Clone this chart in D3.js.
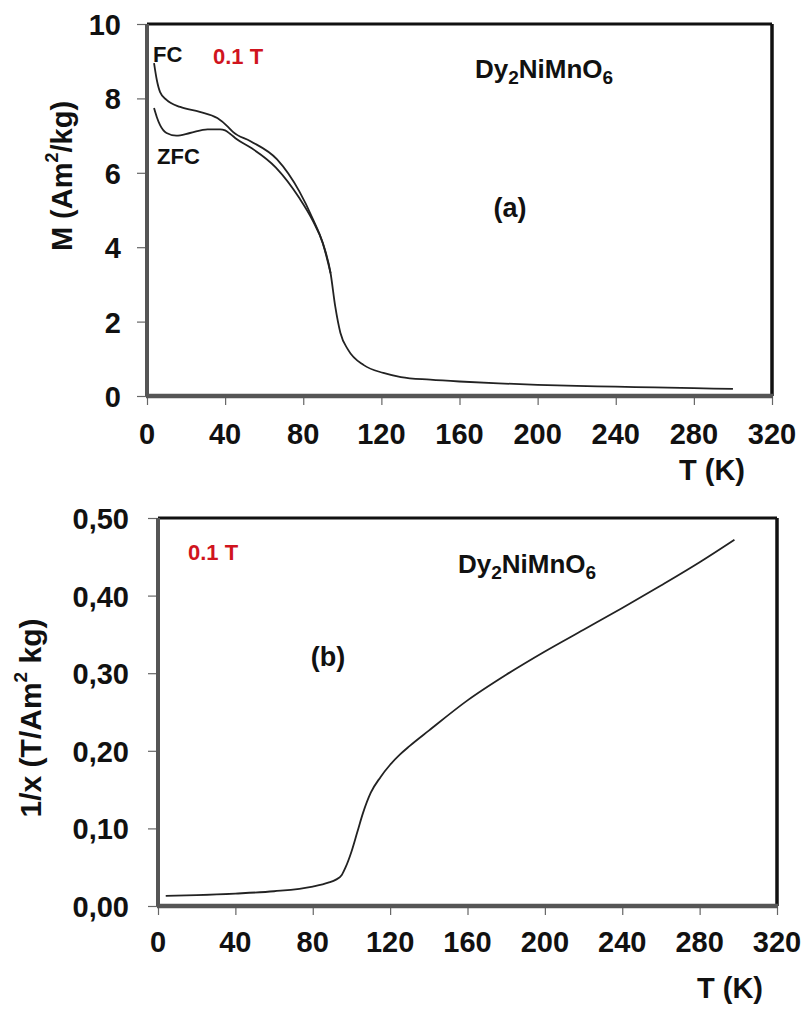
<!DOCTYPE html>
<html>
<head>
<meta charset="utf-8">
<script src="https://cdn.jsdelivr.net/npm/d3@7"></script>
<style>
  body { margin: 0; background: #fff; }
  svg { display: block; }
  text { font-family: "Liberation Sans", Arial, sans-serif; }
</style>
</head>
<body>
<script>
// ---------- data ----------
const xTicks = [0, 40, 80, 120, 160, 200, 240, 280, 320];
const mTicks = [0, 2, 4, 6, 8, 10];
const invTicks = [0, 0.1, 0.2, 0.3, 0.4, 0.5];

// (a) FC magnetisation, T (K) vs M (Am2/kg)
const tempFC = [3.6, 5, 6.7, 10, 17, 27, 36, 41.6, 44, 53, 66.6, 78, 85, 90, 94, 96.4, 99, 103, 111, 121, 130, 145, 160, 180, 200, 220, 240, 260, 280, 300];
const mFC    = [8.95, 8.5, 8.17, 7.96, 7.77, 7.64, 7.47, 7.23, 7.1, 6.85, 6.36, 5.5, 4.75, 4.11, 3.3, 2.4, 1.7, 1.24, 0.83, 0.62, 0.51, 0.44, 0.39, 0.34, 0.3, 0.27, 0.25, 0.23, 0.21, 0.19];
// (a) ZFC magnetisation
const tempZFC = [3.6, 5, 6.7, 10, 15, 22, 31, 37.4, 40, 42.5, 46, 53, 66, 78, 85, 90, 94];
const mZFC    = [7.74, 7.5, 7.28, 7.07, 7.0, 7.07, 7.17, 7.17, 7.14, 7.05, 6.9, 6.68, 6.14, 5.32, 4.7, 4.11, 3.3];

// (b) inverse susceptibility, T (K) vs 1/x (T/Am2 kg)
const tempInv = [4, 20, 40, 60, 80, 88, 92, 95, 97, 100, 103, 106, 110, 115, 120, 125, 130, 140, 160, 180, 200, 220, 240, 260, 280, 298];
const invChi  = [0.013, 0.014, 0.016, 0.019, 0.025, 0.03, 0.034, 0.04, 0.05, 0.07, 0.095, 0.12, 0.146, 0.166, 0.182, 0.195, 0.206, 0.226, 0.265, 0.298, 0.328, 0.356, 0.384, 0.413, 0.443, 0.472];

// ---------- drawing ----------
const W = 807, H = 1012;
const svg = d3.select("body").append("svg").attr("width", W).attr("height", H);
svg.append("rect").attr("width", W).attr("height", H).attr("fill", "#fff");

function panel(opts) {
  const { x, y, xTickVals, yTickVals, yFmt, tickLabelRight, xLabelY } = opts;
  const g = svg.append("g");
  const [x0, x1] = x.range();
  const [y0, y1] = y.range(); // y0 bottom, y1 top

  const xAxis = d3.axisBottom(x).tickValues(xTickVals).tickSize(9).tickFormat("");
  g.append("g").attr("transform", `translate(0,${y0})`).call(xAxis)
    .call(s => s.select(".domain").remove())
    .call(s => s.selectAll("line").attr("stroke", "#666").attr("stroke-width", 1.2));
  const yAxis = d3.axisLeft(y).tickValues(yTickVals).tickSize(10).tickFormat("");
  g.append("g").attr("transform", `translate(${x0},0)`).call(yAxis)
    .call(s => s.select(".domain").remove())
    .call(s => s.selectAll("line").attr("stroke", "#666").attr("stroke-width", 1.2));

  g.selectAll(".xl").data(xTickVals).join("text")
    .attr("x", d => x(d)).attr("y", xLabelY)
    .attr("text-anchor", "middle").attr("dominant-baseline", "central")
    .attr("font-size", 29).attr("font-weight", "bold").attr("fill", "#111")
    .text(d => d);
  g.selectAll(".yl").data(yTickVals).join("text")
    .attr("x", tickLabelRight).attr("y", d => y(d) + 1)
    .attr("text-anchor", "end").attr("dominant-baseline", "central")
    .attr("font-size", 29).attr("font-weight", "bold").attr("fill", "#111")
    .text(yFmt);

  g.append("line").attr("x1", x0).attr("x2", x1).attr("y1", y1).attr("y2", y1)
    .attr("stroke", "#111").attr("stroke-width", 3);
  g.append("line").attr("x1", x1).attr("x2", x1).attr("y1", y1).attr("y2", y0)
    .attr("stroke", "#111").attr("stroke-width", 3.5);
  g.append("line").attr("x1", x0).attr("x2", x0).attr("y1", y1).attr("y2", y0)
    .attr("stroke", "#555").attr("stroke-width", 4);
  g.append("line").attr("x1", x0 - 1).attr("x2", x1 + 1).attr("y1", y0).attr("y2", y0)
    .attr("stroke", "#555").attr("stroke-width", 4.5);
  return g;
}

// ---- panel (a) ----
const xa = d3.scaleLinear().domain([0, 320]).range([147, 772]);
const ya = d3.scaleLinear().domain([0, 10]).range([396, 24]);
panel({ x: xa, y: ya, xTickVals: xTicks, yTickVals: mTicks, yFmt: d => d,
  tickLabelRight: 121, xLabelY: 434 });

const lineA = d3.line().x(d => xa(d[0])).y(d => ya(d[1])).curve(d3.curveMonotoneX);
svg.append("path").datum(tempZFC.map((t, i) => [t, mZFC[i]]))
  .attr("d", lineA).attr("fill", "none").attr("stroke", "#222").attr("stroke-width", 1.8);
svg.append("path").datum(tempFC.map((t, i) => [t, mFC[i]]))
  .attr("d", lineA).attr("fill", "none").attr("stroke", "#222").attr("stroke-width", 1.8);

svg.append("text").attr("x", 712).attr("y", 470).attr("text-anchor", "middle")
  .attr("dominant-baseline", "central").attr("font-size", 29).attr("font-weight", "bold")
  .attr("fill", "#111").text("T (K)");

const yTa = svg.append("text").attr("transform", "translate(62,176) rotate(-90)")
  .attr("text-anchor", "middle").attr("dominant-baseline", "central")
  .attr("font-size", 29).attr("font-weight", "bold").attr("fill", "#111");
yTa.append("tspan").text("M (Am");
yTa.append("tspan").attr("dy", -10).attr("font-size", 18).text("2");
yTa.append("tspan").attr("dy", 10).text("/kg)");

svg.append("text").attr("x", 153).attr("y", 54).attr("dominant-baseline", "central")
  .attr("font-size", 22).attr("font-weight", "bold").attr("fill", "#111").text("FC");
svg.append("text").attr("x", 157).attr("y", 156).attr("dominant-baseline", "central")
  .attr("font-size", 22).attr("font-weight", "bold").attr("fill", "#111").text("ZFC");
svg.append("text").attr("x", 213).attr("y", 56).attr("dominant-baseline", "central")
  .attr("font-size", 22).attr("font-weight", "bold").attr("fill", "#d0141e").text("0.1 T");

function formula(xp, yp) {
  const t = svg.append("text").attr("x", xp).attr("y", yp)
    .attr("font-size", 26).attr("font-weight", "bold").attr("fill", "#111");
  t.append("tspan").text("Dy");
  t.append("tspan").attr("dy", 6).attr("font-size", 19).text("2");
  t.append("tspan").attr("dy", -6).text("NiMnO");
  t.append("tspan").attr("dy", 6).attr("font-size", 19).text("6");
}
formula(475, 78);
svg.append("text").attr("x", 510).attr("y", 208).attr("text-anchor", "middle")
  .attr("dominant-baseline", "central").attr("font-size", 27).attr("font-weight", "bold")
  .attr("fill", "#111").text("(a)");

// ---- panel (b) ----
const xb = d3.scaleLinear().domain([0, 320]).range([158, 777]);
const yb = d3.scaleLinear().domain([0, 0.5]).range([906, 518]);
panel({ x: xb, y: yb, xTickVals: xTicks, yTickVals: invTicks,
  yFmt: d => d3.format(".2f")(d).replace(".", ","),
  tickLabelRight: 129, xLabelY: 942 });

const lineB = d3.line().x(d => xb(d[0])).y(d => yb(d[1])).curve(d3.curveMonotoneX);
svg.append("path").datum(tempInv.map((t, i) => [t, invChi[i]]))
  .attr("d", lineB).attr("fill", "none").attr("stroke", "#222").attr("stroke-width", 1.8);

svg.append("text").attr("x", 730).attr("y", 988).attr("text-anchor", "middle")
  .attr("dominant-baseline", "central").attr("font-size", 29).attr("font-weight", "bold")
  .attr("fill", "#111").text("T (K)");

const yTb = svg.append("text").attr("transform", "translate(30,718) rotate(-90)")
  .attr("text-anchor", "middle").attr("dominant-baseline", "central")
  .attr("font-size", 30).attr("font-weight", "bold").attr("fill", "#111");
yTb.append("tspan").text("1/x (T/Am");
yTb.append("tspan").attr("dy", -10).attr("font-size", 19).text("2");
yTb.append("tspan").attr("dy", 10).text(" kg)");

svg.append("text").attr("x", 188).attr("y", 552).attr("dominant-baseline", "central")
  .attr("font-size", 22).attr("font-weight", "bold").attr("fill", "#d0141e").text("0.1 T");
formula(458, 573);
svg.append("text").attr("x", 328).attr("y", 657).attr("text-anchor", "middle")
  .attr("dominant-baseline", "central").attr("font-size", 27).attr("font-weight", "bold")
  .attr("fill", "#111").text("(b)");
</script>
</body>
</html>
